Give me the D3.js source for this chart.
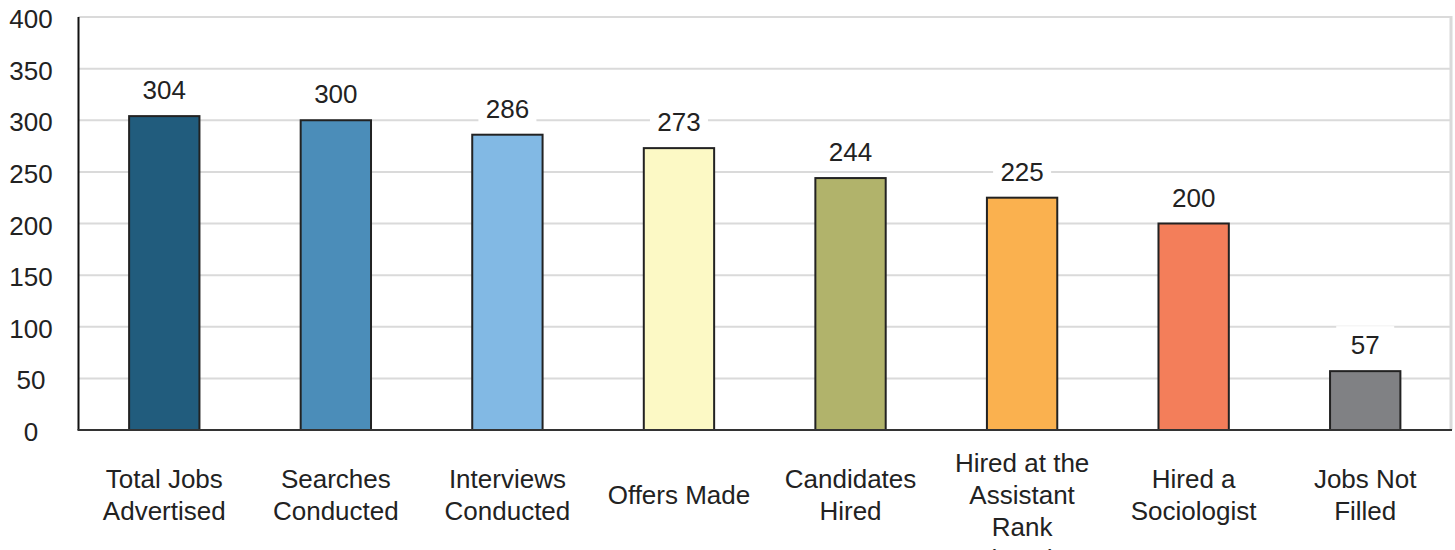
<!DOCTYPE html>
<html>
<head>
<meta charset="utf-8">
<script src="https://cdn.jsdelivr.net/npm/d3@7"></script>
<style>
  body { margin: 0; background: #fff; }
  svg { display: block; font-family: "Liberation Sans", Arial, sans-serif; }
</style>
</head>
<body>
<svg></svg>
<script>
// chart size
var width = 1455;
var height = 550;

// data
var categories = [
  "Total Jobs|Advertised",
  "Searches|Conducted",
  "Interviews|Conducted",
  "Offers Made",
  "Candidates|Hired",
  "Hired at the|Assistant|Rank|(74%)",
  "Hired a|Sociologist",
  "Jobs Not|Filled"
];
var values = [304, 300, 286, 273, 244, 225, 200, 57];
var barColors = ["#215c7d", "#4b8db9", "#82b9e4", "#fcf9c5", "#b1b36b", "#fab14f", "#f37e5a", "#808184"];
var yTicks = [0, 50, 100, 150, 200, 250, 300, 350, 400];

// plot box (not "top": that name is taken by window.top)
var plotLeft = 78.5, plotRight = 1451, plotTop = 17, plotBottom = 430;

var svg = d3.select("svg")
    .attr("width", width)
    .attr("height", height);

var x = d3.scaleBand()
    .domain(d3.range(categories.length))
    .range([plotLeft, plotRight])
    .paddingInner(0.59)
    .paddingOuter(0.295);

var y = d3.scaleLinear()
    .domain([0, 400])
    .range([plotBottom, plotTop]);

// gridlines
svg.append("g")
    .selectAll("line")
    .data(yTicks.filter(function(d) { return d > 0; }))
    .enter().append("line")
    .attr("x1", plotLeft)
    .attr("x2", plotRight)
    .attr("y1", function(d) { return y(d); })
    .attr("y2", function(d) { return y(d); })
    .style("stroke", "#dadada")
    .style("stroke-width", 2);

// right border
svg.append("line")
    .attr("x1", plotRight).attr("x2", plotRight)
    .attr("y1", plotTop - 1).attr("y2", plotBottom)
    .style("stroke", "#dadada")
    .style("stroke-width", 3);

// y tick labels, centred in the margin
svg.append("g")
    .selectAll("text")
    .data(yTicks)
    .enter().append("text")
    .attr("x", 31)
    .attr("y", function(d) { return y(d) + 2; })
    .attr("dy", "0.35em")
    .attr("text-anchor", "middle")
    .style("font-size", "26px")
    .style("fill", "#222")
    .text(function(d) { return d; });

// value label boxes (white, they cut the gridlines)
var labels = svg.append("g")
    .selectAll("g")
    .data(values)
    .enter().append("g")
    .attr("transform", function(d, i) {
        return "translate(" + (x(i) + x.bandwidth() / 2) + "," + (y(d) - 17) + ")";
    });

labels.append("rect")
    .attr("x", -29)
    .attr("y", -28)
    .attr("width", 58)
    .attr("height", 34)
    .style("fill", "#fff");

labels.append("text")
    .attr("text-anchor", "middle")
    .style("font-size", "26px")
    .style("fill", "#222")
    .text(function(d) { return d; });

// bars
svg.append("g")
    .selectAll("rect")
    .data(values)
    .enter().append("rect")
    .attr("x", function(d, i) { return x(i); })
    .attr("y", function(d) { return y(d); })
    .attr("width", x.bandwidth())
    .attr("height", function(d) { return plotBottom - y(d); })
    .style("fill", function(d, i) { return barColors[i]; })
    .style("stroke", "#222")
    .style("stroke-width", 2);

// axes lines
svg.append("line")
    .attr("x1", plotLeft).attr("x2", plotLeft)
    .attr("y1", plotTop).attr("y2", plotBottom)
    .style("stroke", "#111")
    .style("stroke-width", 2);

svg.append("line")
    .attr("x1", plotLeft - 1).attr("x2", plotRight + 1)
    .attr("y1", plotBottom).attr("y2", plotBottom)
    .style("stroke", "#333")
    .style("stroke-width", 2);

// category labels, multi line (the 4th line of one label runs off the bottom)
var lineH = 32;
svg.append("g")
    .selectAll("text")
    .data(categories)
    .enter().append("text")
    .attr("text-anchor", "middle")
    .style("font-size", "26px")
    .style("fill", "#222")
    .each(function(d, i) {
        var lines = d.split("|");
        var n = Math.min(lines.length, 3);
        var y0 = 504 - (n - 1) * lineH / 2;
        var t = d3.select(this);
        lines.forEach(function(s, k) {
            t.append("tspan")
                .attr("x", x(i) + x.bandwidth() / 2)
                .attr("y", y0 + k * lineH)
                .text(s);
        });
    });
</script>
</body>
</html>
